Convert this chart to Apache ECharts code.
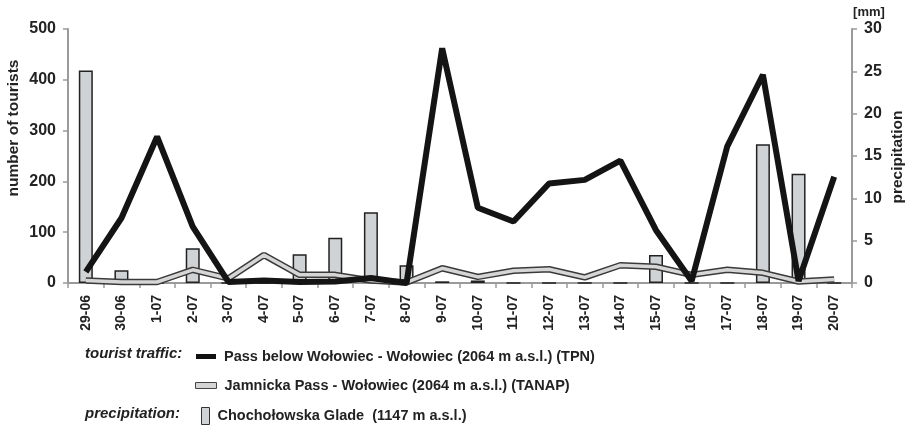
<!DOCTYPE html>
<html>
<head>
<meta charset="utf-8">
<script src="https://cdn.jsdelivr.net/npm/echarts@6/dist/echarts.min.js"></script>
<style>
  html, body { margin: 0; padding: 0; background: #fff; }
  #chart { width: 909px; height: 430px; }
</style>
</head>
<body>
<div id="chart"></div>
<script>
var days = ['29-06','30-06','1-07','2-07','3-07','4-07','5-07','6-07','7-07','8-07','9-07',
            '10-07','11-07','12-07','13-07','14-07','15-07','16-07','17-07','18-07','19-07','20-07'];
// tourists, Pass below Wołowiec (TPN)
var tpn = [22, 128, 288, 111, 2, 5, 2, 3, 10, 0, 462, 148, 121, 196, 203, 241, 104, 4, 269, 410, 4, 209];
// tourists, Jamnicka Pass (TANAP)
var tanap = [5, 2, 2, 26, 9, 55, 16, 16, 5, 1, 29, 12, 24, 27, 11, 35, 32, 16, 26, 20, 3, 7];
// precipitation [mm], Chochołowska Glade
var rain = [25.1, 1.5, 0, 4.1, 0, 0, 3.4, 5.35, 8.35, 2.1, 0.2, 0.3, 0, 0, 0, 0, 3.3, 0, 0, 16.4, 12.9, 0];

var nameTPN = 'Pass below Wołowiec - Wołowiec (2064 m a.s.l.) (TPN)';
var nameTANAP = 'Jamnicka Pass - Wołowiec (2064 m a.s.l.) (TANAP)';
var nameRain = 'Chochołowska Glade  (1147 m a.s.l.)';

var font = 'Liberation Sans, Arial, sans-serif';
var txt = '#222';
var axisCol = '#9a9a9a';
var legendText = { color: txt, fontFamily: font, fontWeight: 'bold', fontSize: 14.5, padding: [0, 0, 0, 3] };

var chart = echarts.init(document.getElementById('chart'));
chart.setOption({
  animation: false,
  grid: { left: 68, right: 57, top: 29, bottom: 147 },
  xAxis: {
    type: 'category',
    data: days,
    axisLine: { lineStyle: { color: axisCol, width: 2 } },
    axisTick: { show: true, length: 5, lineStyle: { color: axisCol, width: 1.5 } },
    axisLabel: { rotate: 90, color: txt, fontFamily: font, fontWeight: 'bold', fontSize: 14, margin: 12, interval: 0 }
  },
  yAxis: [{
    type: 'value', min: 0, max: 500, interval: 100,
    splitLine: { show: false },
    axisLine: { show: true, lineStyle: { color: axisCol, width: 2 } },
    axisTick: { show: true, length: 5, lineStyle: { color: axisCol, width: 1.5 } },
    axisLabel: { color: txt, fontFamily: font, fontWeight: 'bold', fontSize: 16, margin: 12 }
  }, {
    type: 'value', min: 0, max: 30, interval: 5,
    position: 'right',
    splitLine: { show: false },
    axisLine: { show: true, lineStyle: { color: axisCol, width: 2 } },
    axisTick: { show: true, length: 5, lineStyle: { color: axisCol, width: 1.5 } },
    axisLabel: { color: txt, fontFamily: font, fontWeight: 'bold', fontSize: 16, margin: 12 }
  }],
  legend: [{
    left: 191, top: 344, itemWidth: 20, itemHeight: 5, textStyle: legendText,
    data: [{ name: nameTPN, icon: 'rect', itemStyle: { color: '#111', borderWidth: 0 } }]
  }, {
    left: 190, top: 373, itemWidth: 21, itemHeight: 6, textStyle: legendText,
    data: [{ name: nameTANAP, icon: 'rect', itemStyle: { color: '#d4d4d4', borderColor: '#444', borderWidth: 1 } }]
  }, {
    left: 196, top: 402, itemWidth: 8, itemHeight: 17, textStyle: legendText,
    data: [{ name: nameRain, icon: 'rect', itemStyle: { color: '#d0d3d5', borderColor: '#333', borderWidth: 1 } }]
  }],
  graphic: [
    { type: 'text', x: 14, y: 128, rotation: Math.PI / 2, style: { text: 'number of tourists', fill: txt, font: 'bold 15.5px ' + font, align: 'center', verticalAlign: 'middle' } },
    { type: 'text', x: 898, y: 157, rotation: Math.PI / 2, style: { text: 'precipitation', fill: txt, font: 'bold 15.5px ' + font, align: 'center', verticalAlign: 'middle' } },
    { type: 'text', x: 869, y: 12, style: { text: '[mm]', fill: txt, font: 'bold 13px ' + font, align: 'center', verticalAlign: 'middle' } },
    { type: 'text', x: 85, y: 354, style: { text: 'tourist traffic:', fill: txt, font: 'italic bold 15px ' + font, verticalAlign: 'middle' } },
    { type: 'text', x: 85, y: 414, style: { text: 'precipitation:', fill: txt, font: 'italic bold 15px ' + font, verticalAlign: 'middle' } }
  ],
  series: [{
    name: nameRain,
    type: 'bar',
    yAxisIndex: 1,
    data: rain,
    barWidth: 14,
    itemStyle: { color: '#d0d3d5', borderColor: '#222', borderWidth: 1.5 },
    z: 1
  }, {
    name: 'tanap-outline',
    type: 'line',
    data: tanap,
    symbol: 'none',
    silent: true,
    lineStyle: { color: '#3a3a3a', width: 6.5 },
    z: 2
  }, {
    name: nameTANAP,
    type: 'line',
    data: tanap,
    symbol: 'none',
    lineStyle: { color: '#d6d6d6', width: 3.5 },
    z: 3
  }, {
    name: nameTPN,
    type: 'line',
    data: tpn,
    symbol: 'none',
    lineStyle: { color: '#141414', width: 6 },
    z: 4
  }]
});
</script>
</body>
</html>
